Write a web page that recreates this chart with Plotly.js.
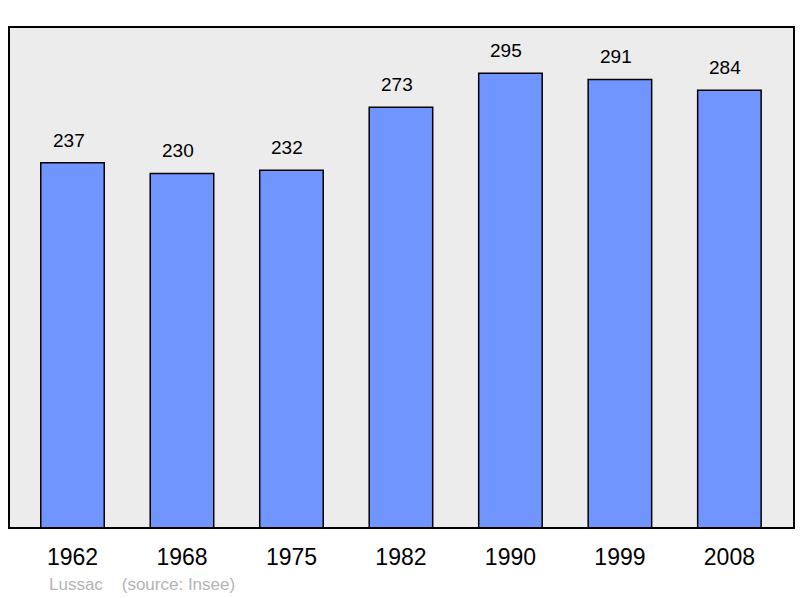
<!DOCTYPE html>
<html>
<head>
<meta charset="utf-8">
<script src="https://cdn.plot.ly/plotly-3.0.1.min.js"></script>
<style>
  html, body { margin: 0; padding: 0; background: #fff; }
  #chart { width: 800px; height: 598px; }
</style>
</head>
<body>
<div id="chart"></div>
<script>
// population by census year
const years = ["1962", "1968", "1975", "1982", "1990", "1999", "2008"];
const population = [237, 230, 232, 273, 295, 291, 284];
const town = "Lussac";
const source = "(source: Insee)";

const W = 800, H = 598;
const mL = 9, mR = 6, mT = 27, mB = 70;
const FONT = "Liberation Sans, Arial, sans-serif";

const trace = {
  type: "bar",
  x: years,
  y: population,
  width: 0.58,
  marker: { color: "#7095ff", line: { color: "#000", width: 1.5 } },
  hoverinfo: "x+y"
};

// value labels over each bar (x given as category index)
const labels = years.map((yr, i) => ({
  x: i, y: population[i], xref: "x", yref: "y",
  text: String(population[i]), showarrow: false,
  yanchor: "bottom", yshift: 10, xshift: -4,
  font: { family: FONT, size: 19, color: "#000" }
}));

labels.push({
  xref: "paper", yref: "paper",
  x: (47 - mL) / (W - mL - mR), y: -(584 - (H - mB)) / (H - mT - mB),
  xanchor: "left", yanchor: "middle", showarrow: false,
  text: town + "&nbsp;&nbsp;&nbsp;&nbsp;" + source,
  font: { family: FONT, size: 17, color: "#b4b4b4" }
});

const layout = {
  width: W, height: H,
  margin: { l: mL, r: mR, t: mT, b: mB },
  paper_bgcolor: "#fff",
  plot_bgcolor: "#ececec",
  showlegend: false,
  xaxis: {
    type: "category",
    range: [-0.58, 6.59],
    showgrid: false, zeroline: false, showline: false,
    ticks: "outside", ticklen: 8, tickcolor: "rgba(0,0,0,0)",
    tickfont: { family: FONT, size: 23, color: "#000" },
    fixedrange: true
  },
  yaxis: {
    range: [0, 325],
    showgrid: false, zeroline: false, showline: false,
    showticklabels: false, ticks: "",
    fixedrange: true
  },
  shapes: [{
    type: "rect", xref: "paper", yref: "paper",
    x0: 0, x1: 1, y0: 0, y1: 1,
    line: { color: "#000", width: 2 }, fillcolor: "rgba(0,0,0,0)"
  }],
  annotations: labels
};

Plotly.newPlot("chart", [trace], layout, { displayModeBar: false, staticPlot: true });
</script>
</body>
</html>
